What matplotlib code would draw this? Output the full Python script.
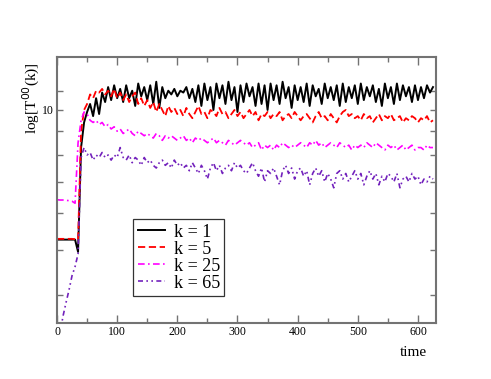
import numpy as np
import matplotlib
matplotlib.use("Agg")
import matplotlib.pyplot as plt
from matplotlib.ticker import FixedLocator, NullFormatter, FixedFormatter

# time grid, one sample every 5 time units (0 .. 625)
time = np.arange(0, 630, 5)

# values, log[T00(k)]
k1 = [5.26, 5.26, 5.26, 5.26, 5.26, 5.26, 5.26, 4.95,
      8.3, 9.4, 9.9, 10.3, 9.7, 10.6, 9.8, 10.9, 10.4, 11.2, 10.5, 11.3, 10.6,
      11.1, 10.4, 11.3, 10.6, 11.0, 10.2, 11.4, 10.7, 11.2, 10.5,
      11.3, 10.3, 11.5, 10.1, 11.2, 10.6, 11.0, 10.8, 11.1, 10.7,
      11.0, 10.9, 11.2, 10.6, 11.1, 10.4, 11.3, 10.2, 11.4, 10.5,
      11.2, 10.0, 11.4, 10.6, 11.3, 10.3, 11.5, 10.5, 11.2, 9.9,
      11.3, 10.4, 11.4, 10.7, 11.2, 10.2, 11.4, 10.3, 11.3, 10.0,
      11.4, 10.5, 11.3, 10.3, 11.5, 10.6, 11.2, 10.1, 11.3, 10.5,
      11.2, 10.4, 11.4, 10.2, 11.3, 10.7, 11.1, 10.3, 11.4, 10.6,
      11.2, 10.5, 11.3, 10.2, 11.4, 10.4, 11.2, 10.6, 11.3, 10.3,
      11.4, 10.5, 11.2, 10.7, 11.3, 10.4, 11.1, 10.2, 11.4, 10.6,
      11.2, 10.3, 11.4, 10.5, 11.3, 10.7, 11.2, 10.4, 11.3, 10.5,
      11.2, 10.6, 11.3, 10.9, 11.2]

k5 = [5.28, 5.28, 5.28, 5.28, 5.28, 5.28, 5.27, 5.25,
      9.0, 10.0, 10.3, 10.8, 10.6, 11.0, 10.9, 11.1, 10.8, 11.0, 10.7, 11.1, 10.6,
      10.9, 10.5, 10.8, 10.4, 10.7, 10.9, 10.3, 10.6, 10.2, 10.5,
      10.1, 10.4, 9.9, 10.3, 10.0, 9.7, 10.2, 9.9, 10.1, 9.8,
      10.0, 9.7, 10.1, 9.8, 9.6, 9.9, 10.2, 9.8, 9.9, 9.6,
      10.0, 9.9, 9.7, 10.1, 9.8, 9.9, 9.6, 9.8, 10.0, 9.7,
      9.9, 9.6, 9.8, 10.0, 9.7, 9.9, 9.5, 9.8, 9.7, 9.9,
      9.6, 9.8, 9.7, 9.9, 9.5, 9.7, 9.8, 9.6, 9.9, 9.7,
      9.5, 9.7, 9.8, 9.6, 9.4, 9.7, 9.9, 9.6, 9.7, 9.5,
      9.8, 9.6, 9.4, 9.7, 9.9, 10.0, 9.7, 9.8, 9.6, 9.7,
      9.5, 9.8, 9.6, 9.7, 9.4, 9.6, 9.8, 9.5, 9.7, 9.6,
      9.8, 9.5, 9.6, 9.7, 9.4, 9.6, 9.5, 9.7, 9.6, 9.4,
      9.6, 9.5, 9.7, 9.4, 9.5]

k25 = [6.41, 6.40, 6.40, 6.39, 6.38, 6.36, 6.30, 8.5,
       9.5, 9.9, 9.8, 9.5, 9.4, 9.5, 9.3, 9.4, 9.2, 9.3, 9.1, 9.2, 9.0,
       9.1, 8.9, 9.0, 9.1, 8.9, 8.8, 9.0, 8.9, 8.8, 8.9,
       8.8, 8.7, 8.9, 8.8, 8.6, 8.8, 8.7, 8.8, 8.7, 8.6,
       8.7, 8.8, 8.6, 8.7, 8.5, 8.7, 8.6, 8.7, 8.6, 8.5,
       8.6, 8.7, 8.5, 8.6, 8.5, 8.4, 8.6, 8.5, 8.4, 8.5,
       8.6, 8.5, 8.4, 8.5, 8.3, 8.4, 8.5, 8.2, 8.4, 8.3,
       8.4, 8.2, 8.4, 8.3, 8.5, 8.4, 8.3, 8.4, 8.3, 8.4,
       8.5, 8.4, 8.3, 8.5, 8.4, 8.6, 8.4, 8.5, 8.3, 8.4,
       8.5, 8.4, 8.3, 8.5, 8.4, 8.3, 8.4, 8.2, 8.4, 8.3,
       8.4, 8.3, 8.5, 8.4, 8.3, 8.5, 8.4, 8.3, 8.2, 8.4,
       8.3, 8.4, 8.2, 8.3, 8.4, 8.2, 8.3, 8.4, 8.2, 8.3,
       8.3, 8.2, 8.4, 8.3, 8.3]

k65 = [np.nan, 3.3, 3.6, 3.85, 4.1, 4.4, 4.6, 4.9,
       7.9, 8.3, 8.0, 8.1, 7.8, 8.0, 7.9, 8.1, 7.9, 8.0, 7.8, 8.0, 7.9,
       8.3, 7.9, 7.8, 8.0, 7.7, 7.9, 7.8, 7.6, 7.9, 7.7,
       7.8, 7.6, 7.5, 7.7, 7.8, 7.6, 7.7, 7.5, 7.8, 7.6,
       7.7, 7.5, 7.6, 7.4, 7.7, 7.5, 7.3, 7.6, 7.4, 7.1,
       7.5, 7.7, 7.4, 7.6, 7.3, 7.5, 7.6, 7.4, 7.7, 7.5,
       7.6, 7.4, 7.3, 7.5, 7.7, 7.4, 7.2, 7.5, 7.0, 7.4,
       7.3, 7.5, 7.2, 6.9, 7.4, 7.6, 7.3, 7.5, 7.1, 7.4,
       7.5, 7.2, 7.4, 6.9, 7.3, 7.5, 7.2, 7.4, 7.0, 7.3,
       7.1, 6.8, 7.3, 7.4, 7.1, 7.3, 7.0, 7.2, 7.4, 7.1,
       7.3, 6.9, 7.2, 7.4, 7.1, 7.3, 6.9, 7.2, 7.0, 7.3,
       7.2, 7.0, 7.3, 6.8, 7.1, 7.2, 7.0, 7.3, 7.1, 7.2,
       6.9, 7.1, 7.0, 7.2, 7.1]

labels = ['k = 1', 'k = 5', 'k = 25', 'k = 65']
colors = ['black', '#ff0000', '#ff00ff', '#7221bc']
dashes = [None, (4, 2), (4, 2, 1, 2), (3, 2, 1, 2, 1, 2)]
widths = [1.4, 1.3, 1.2, 1.2]

plt.rcParams['font.family'] = ['Liberation Serif', 'DejaVu Serif']

fig = plt.figure(figsize=(4.91, 3.79), dpi=100)
ax = fig.add_axes([0.1161, 0.1478, 0.7719, 0.7018])

for vals, lab, col, dsh, lw in zip([k1, k5, k25, k65], labels, colors, dashes, widths):
    line, = ax.plot(time, vals, color=col, lw=lw, label=lab)
    if dsh is not None:
        line.set_dashes(dsh)

ax.set_yscale('log')
ax.set_xlim(0, 630)
ax.set_ylim(3.48, 13.0)

# y ticks: only "10" labelled
ax.yaxis.set_major_locator(FixedLocator([10]))
ax.yaxis.set_major_formatter(FixedFormatter(['10']))
ax.yaxis.set_minor_locator(FixedLocator([4, 5, 6, 7, 8, 9, 11]))
ax.yaxis.set_minor_formatter(NullFormatter())

ax.set_xticks([0, 100, 200, 300, 400, 500, 600])
ax.set_xticks([50, 150, 250, 350, 450, 550], minor=True)

ax.tick_params(which='both', direction='in', top=True, right=True,
               color='0.45', width=1.0, labelsize=8.5, pad=2)
ax.tick_params(axis='x', which='major', length=6)
ax.tick_params(axis='x', which='minor', length=3.5)
ax.tick_params(axis='y', which='both', length=4.5)

for sp in ax.spines.values():
    sp.set_color('0.45')
    sp.set_linewidth(1.5)

fig.text(413 / 491, 1 - 352 / 379, 'time', ha='center', va='center', fontsize=11)
fig.text(31 / 491, 1 - 98 / 379, r'log[T$^{00}$(k)]', rotation=90,
         ha='center', va='center', fontsize=11)

leg = ax.legend(loc='upper left', bbox_to_anchor=(133 / 491, 1 - 219 / 379),
                bbox_transform=fig.transFigure, borderaxespad=0,
                fancybox=False, frameon=True, fontsize=13,
                handlelength=1.5, handletextpad=0.5, labelspacing=0.0,
                borderpad=0.25)
leg.get_frame().set_edgecolor('black')
leg.get_frame().set_linewidth(0.9)

fig.savefig('out.png', dpi=100)
